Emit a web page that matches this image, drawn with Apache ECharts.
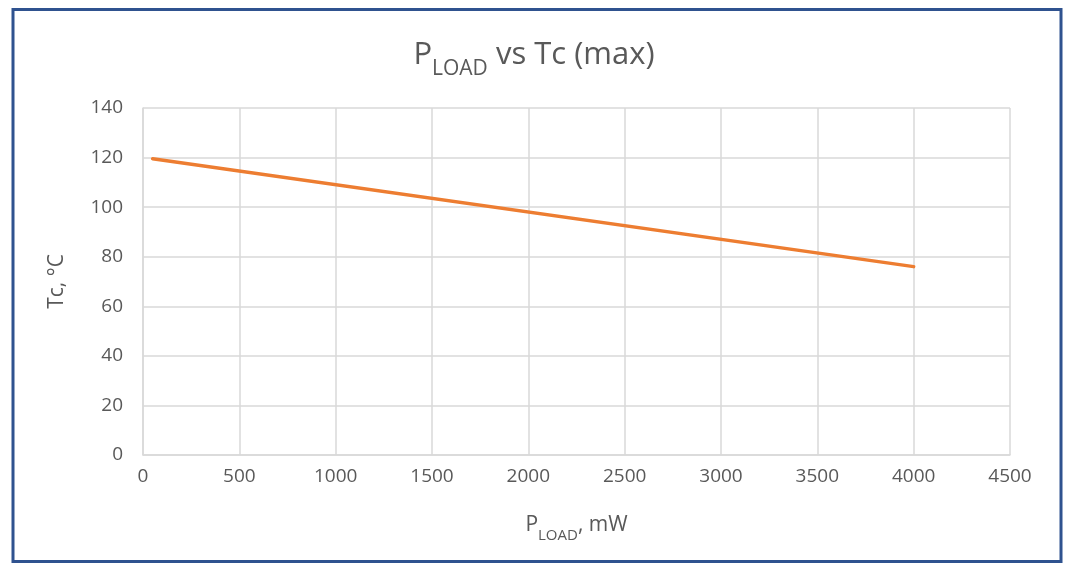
<!DOCTYPE html>
<html><head><meta charset="utf-8">
<script src="https://cdn.jsdelivr.net/npm/echarts@6/dist/echarts.min.js"></script>
<style>html,body{margin:0;padding:0;background:#fff}#c{width:1068px;height:570px}</style>
</head><body><div id="c"></div>
<script>
const xValues = [50, 4000];
const tcValues = [119.5, 76];
const xTicks = [0, 500, 1000, 1500, 2000, 2500, 3000, 3500, 4000, 4500];
const yTicks = [0, 20, 40, 60, 80, 100, 120, 140];

const chart = echarts.init(document.getElementById('c'));
const font = '"Open Sans", "Noto Sans", sans-serif';
chart.setOption({
  backgroundColor: '#fff',
  animation: false,
  graphic: [{type:'rect', shape:{x:13, y:9.5, width:1048, height:552}, style:{fill:'none', stroke:'#2f528f', lineWidth:3}}],
  title: {
    text: '{p|P}{s|LOAD}{p| vs Tc (max)}',
    left: 'center', top: 28,
    textStyle: {rich: {
      p: {fontSize: 31, color: '#595959', fontFamily: font, fontWeight: 'normal', verticalAlign:'bottom', lineHeight: 38},
      s: {fontSize: 21, color: '#595959', fontFamily: font, fontWeight: 'normal', verticalAlign:'bottom', lineHeight: 30, padding:[0,0,-9,0]}
    }}
  },
  grid: {left: 143, right: 58, top: 108, bottom: 115, containLabel: false},
  xAxis: {
    type: 'value', min: 0, max: 4500, interval: 500,
    name: '{p|P}{s|LOAD}{p|, mW}', nameLocation: 'middle', nameGap: 55,
    nameTextStyle: {rich: {
      p: {fontSize: 21, color: '#595959', fontFamily: font, verticalAlign:'bottom', lineHeight: 26},
      s: {fontSize: 15, color: '#595959', fontFamily: font, verticalAlign:'bottom', lineHeight: 20, padding:[0,0,-7,0]}
    }},
    axisLine: {show: true, lineStyle: {color: '#d9d9d9', width: 1.5}},
    axisTick: {show: false},
    axisLabel: {fontSize: 19, color: '#595959', fontFamily: font, margin: 12,
      formatter: v => xTicks.includes(v) ? String(v) : ''},
    splitLine: {show: true, lineStyle: {color: '#d9d9d9', width: 1.5}}
  },
  yAxis: {
    type: 'value', min: 0, max: 140, interval: 20,
    name: 'Tc, °C', nameLocation: 'middle', nameGap: 75, nameRotate: 90,
    nameTextStyle: {fontSize: 21, color: '#595959', fontFamily: font},
    axisLine: {show: true, lineStyle: {color: '#d9d9d9', width: 1.5}},
    axisTick: {show: false},
    axisLabel: {fontSize: 19, color: '#595959', fontFamily: font, margin: 20,
      formatter: v => yTicks.includes(v) ? String(v) : ''},
    splitLine: {show: true, lineStyle: {color: '#d9d9d9', width: 1.5}}
  },
  series: [{
    type: 'line',
    data: xValues.map((x, i) => [x, tcValues[i]]),
    showSymbol: false,
    lineStyle: {color: '#ed7d31', width: 3.5, cap: 'round'}
  }]
});
</script></body></html>
